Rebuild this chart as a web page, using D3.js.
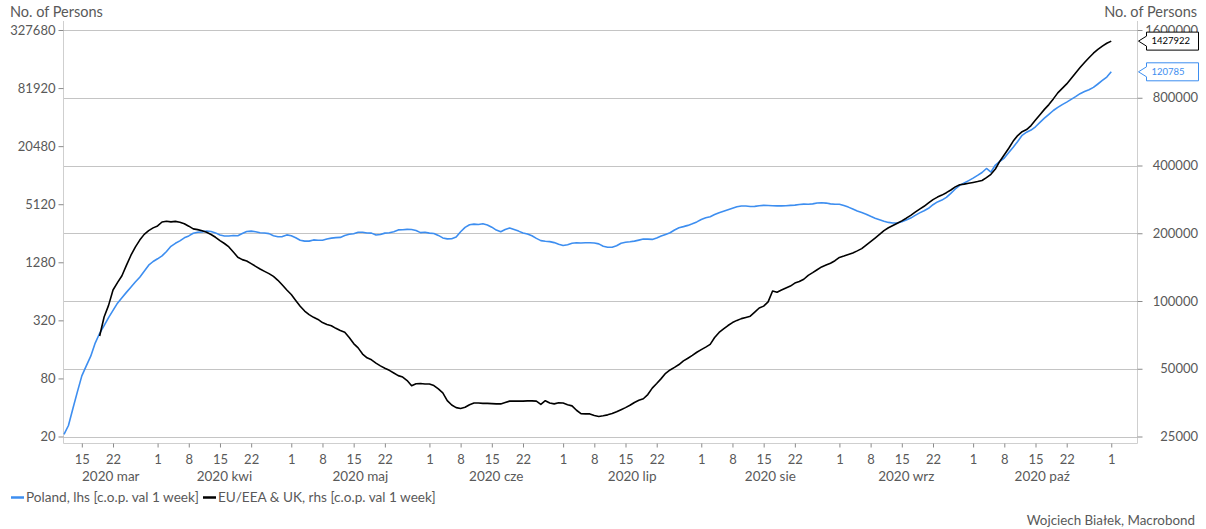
<!DOCTYPE html>
<html>
<head>
<meta charset="utf-8">
<script src="https://cdn.jsdelivr.net/npm/d3@7"></script>
<style>
  html, body { margin: 0; padding: 0; background: #fff; }
  svg { display: block; font-family: Lato, "Open Sans", sans-serif; }
</style>
</head>
<body>
<svg id="chart" width="1206" height="529"></svg>
<script>
// Weekly new COVID-19 cases (change over one week), daily observations
const polandStart = "2020-03-11";
const euStart = "2020-03-19";

// Poland, left axis
const polandValues = [
  21, 26, 39, 58, 85, 108, 136, 186, 235, 282,
  341, 406, 482, 550, 624, 706, 798, 897, 1034, 1194,
  1304, 1391, 1490, 1656, 1875, 2014, 2133, 2296, 2403, 2557,
  2626, 2644, 2702, 2670, 2582, 2450, 2398, 2398, 2427, 2414,
  2544, 2670, 2694, 2650, 2594, 2576, 2538, 2409, 2358, 2363,
  2462, 2414, 2302, 2169, 2122, 2122, 2184, 2169, 2164, 2232,
  2280, 2308, 2319, 2420, 2496, 2532, 2618, 2624, 2576, 2568,
  2456, 2484, 2568, 2588, 2656, 2774, 2780, 2806, 2795, 2734,
  2600, 2624, 2568, 2544, 2432, 2290, 2238, 2248, 2341, 2656,
  2944, 3132, 3184, 3154, 3208, 3118, 2958, 2760, 2650, 2795,
  2895, 2795, 2694, 2576, 2514, 2414, 2264, 2148, 2112, 2097,
  2048, 1971, 1911, 1948, 2018, 2040, 2028, 2040, 2040, 2028,
  1985, 1879, 1830, 1830, 1902, 2018, 2062, 2088, 2122, 2174,
  2232, 2226, 2210, 2290, 2398, 2490, 2588, 2766, 2923, 3000,
  3088, 3208, 3356, 3554, 3702, 3800, 3996, 4180, 4334, 4492,
  4656, 4814, 4906, 4906, 4848, 4867, 4942, 4978, 4966, 4942,
  4918, 4918, 4942, 4978, 5014, 5086, 5134, 5122, 5160, 5272,
  5296, 5260, 5160, 5110, 5110, 4966, 4778, 4556, 4354, 4192,
  4034, 3836, 3666, 3538, 3412, 3316, 3270, 3270, 3364, 3504,
  3676, 3920, 4162, 4376, 4644, 5060, 5410, 5648, 6024, 6628,
  7362, 8024, 8496, 8998, 9552, 10188, 10918, 12012, 11046, 13042,
  14266, 15434, 17604, 19974, 22890, 26540, 28580, 30040, 32500, 36100,
  39920, 43720, 47960, 51660, 55240, 58620, 62540, 66700, 71640, 75320,
  78820, 83260, 90300, 98160, 106480, 120785
];

// EU/EEA & UK, right axis
const euValues = [
  69900, 84900,
  95600, 111900, 120700, 129400, 143900, 159300, 173600, 186500, 197700, 205500,
  211300, 215600, 224400, 226000, 224600, 225800, 224000, 220300, 215000, 209100,
  207600, 205300, 202100, 197500, 191900, 185500, 180100, 173900, 165100, 156500,
  152700, 150600, 146600, 142600, 138700, 135400, 132300, 128600, 123600, 117700,
  111900, 106900, 100600, 94800, 90200, 87000, 84600, 82800, 80200, 78700,
  77600, 75600, 73900, 72700, 68900, 64700, 61900, 58100, 55900, 54800,
  53000, 51500, 50300, 49200, 47900, 46600, 45900, 44300, 42000, 42900,
  43000, 42800, 42800, 42100, 40700, 39100, 36100, 34500, 33600, 33300,
  33700, 34600, 35200, 35200, 35100, 35100, 35000, 34900, 34900, 35400,
  35900, 35900, 35900, 35900, 36000, 36000, 35900, 34750, 36050, 35200,
  34900, 35300, 35200, 34600, 34200, 32700, 31600, 31500, 31500, 31000,
  30700, 30900, 31200, 31600, 32200, 32900, 33600, 34400, 35400, 36200,
  36800, 38400, 41000, 43000, 45200, 47700, 49400, 50700, 52200, 54200,
  55700, 57300, 59200, 60800, 62400, 64200, 68800, 72500, 75200, 77800,
  80200, 82000, 83500, 84500, 85600, 89200, 93100, 94900, 99100, 110800,
  109300, 111900, 114300, 116500, 120100, 122000, 124900, 130000, 133600, 137700,
  141700, 144400, 147200, 151000, 156100, 158300, 160800, 163400, 167000, 170900,
  177200, 183600, 190500, 197700, 205500, 211500, 216500, 221700, 227000, 233300,
  240300, 248300, 256100, 263500, 272800, 282200, 289500, 295500, 302900, 311300,
  321400, 328400, 330700, 333400, 336200, 339300, 343100, 353400, 365600, 386000,
  418000, 446300, 477000, 513500, 543200, 565300, 577600, 601700, 636500, 672700,
  710200, 745900, 790700, 840800, 880400, 921900, 974200, 1031600, 1089100, 1147400,
  1205200, 1262000, 1312000, 1355700, 1396600, 1427922
];

const leftTicks = [20, 80, 320, 1280, 5120, 20480, 81920, 327680];
const rightTicks = [25000, 50000, 100000, 200000, 400000, 800000, 1600000];
const dayTickLabels = ["2020-03-15", "2020-03-22",
  "2020-04-01", "2020-04-08", "2020-04-15", "2020-04-22",
  "2020-05-01", "2020-05-08", "2020-05-15", "2020-05-22",
  "2020-06-01", "2020-06-08", "2020-06-15", "2020-06-22",
  "2020-07-01", "2020-07-08", "2020-07-15", "2020-07-22",
  "2020-08-01", "2020-08-08", "2020-08-15", "2020-08-22",
  "2020-09-01", "2020-09-08", "2020-09-15", "2020-09-22",
  "2020-10-01", "2020-10-08", "2020-10-15", "2020-10-22",
  "2020-11-01"];
const monthNames = ["2020 mar", "2020 kwi", "2020 maj", "2020 cze", "2020 lip", "2020 sie", "2020 wrz", "2020 paź"];
const seriesNames = ["Poland, lhs [c.o.p. val 1 week]", "EU/EEA & UK, rhs [c.o.p. val 1 week]"];
const colors = { poland: "#3d8ef0", eu: "#000000" };

const parse = d3.utcParse("%Y-%m-%d");
const polandData = polandValues.map((v, i) => ({ date: d3.utcDay.offset(parse(polandStart), i), value: v }));
const euData = euValues.map((v, i) => ({ date: d3.utcDay.offset(parse(euStart), i), value: v }));

const svg = d3.select("#chart");
const plot = { left: 63.5, right: 1137.5, top: 21, bottom: 443.5 };

const x = d3.scaleUtc().domain([parse("2020-03-11"), parse("2020-11-07")]).range([64, 1138]);
const yL = d3.scaleLog().base(4).domain([20, 327680]).range([436.5, 30]);
const yR = d3.scaleLog().base(2).domain([25000, 1600000]).range([436.5, 30]);

const axisColor = "#cfcfcf";
const textColor = "#595959";

// horizontal grid on the right-hand scale
svg.append("g").selectAll("line").data(rightTicks).join("line")
  .attr("x1", plot.left).attr("x2", plot.right)
  .attr("y1", d => Math.round(yR(d)) + 0.5).attr("y2", d => Math.round(yR(d)) + 0.5)
  .attr("stroke", "#c4c4c4").attr("stroke-width", 1.2);

// plot frame
svg.append("path")
  .attr("d", `M${plot.left},${plot.top}V${plot.bottom}H${plot.right}V${plot.top}`)
  .attr("fill", "none").attr("stroke", axisColor);

// left axis
const gL = svg.append("g").attr("transform", `translate(${plot.left},0)`)
  .call(d3.axisLeft(yL).tickValues(leftTicks).tickSize(5).tickPadding(3).tickFormat(d3.format("d")));
gL.select(".domain").remove();
gL.selectAll(".tick line").attr("stroke", "#8a8a8a");
gL.selectAll("text").attr("fill", textColor).attr("font-size", 13).attr("font-family", "Lato, sans-serif");

// right axis
const gR = svg.append("g").attr("transform", `translate(${plot.right},0)`)
  .call(d3.axisRight(yR).tickValues(rightTicks).tickSize(5).tickFormat(d3.format("d")));
gR.select(".domain").remove();
gR.selectAll(".tick line").attr("stroke", "#8a8a8a");
gR.selectAll("text").attr("fill", textColor).attr("font-size", 13).attr("font-family", "Lato, sans-serif")
  .attr("text-anchor", "end").attr("x", 60.5);

// bottom axis: weekly day ticks
const gX = svg.append("g").attr("transform", `translate(0,${plot.bottom})`)
  .call(d3.axisBottom(x).tickValues(dayTickLabels.map(parse)).tickSize(4).tickPadding(7)
    .tickFormat(d3.utcFormat("%-d")));
gX.select(".domain").remove();
gX.selectAll(".tick line").attr("stroke", "#8a8a8a");
gX.selectAll("text").attr("fill", textColor).attr("font-size", 13).attr("font-family", "Lato, sans-serif");

// month labels centred on the visible part of each month
const monthStarts = d3.utcMonth.range(parse("2020-03-01"), parse("2020-11-01"));
svg.append("g").selectAll("text").data(monthStarts).join("text")
  .attr("x", d => {
    const a = d3.max([d, x.domain()[0]]);
    const b = d3.utcMonth.offset(d, 1);
    return (x(a) + x(b)) / 2;
  })
  .attr("y", 481)
  .attr("text-anchor", "middle")
  .attr("font-size", 13.5).attr("fill", textColor)
  .text((d, i) => monthNames[i]);

// series lines
const lineL = d3.line().x(d => x(d.date)).y(d => yL(d.value));
const lineR = d3.line().x(d => x(d.date)).y(d => yR(d.value));
svg.append("path").datum(polandData).attr("d", lineL)
  .attr("fill", "none").attr("stroke", colors.poland).attr("stroke-width", 1.6).attr("stroke-linejoin", "round");
svg.append("path").datum(euData).attr("d", lineR)
  .attr("fill", "none").attr("stroke", colors.eu).attr("stroke-width", 1.6).attr("stroke-linejoin", "round");

// axis titles
svg.append("text").attr("x", 10).attr("y", 17).attr("font-size", 14.5).attr("fill", textColor).text("No. of Persons");
svg.append("text").attr("x", 1197).attr("y", 17).attr("text-anchor", "end").attr("font-size", 14.5).attr("fill", textColor).text("No. of Persons");

// last-value callouts
function callout(yPos, label, color) {
  const tip = 1138.5, bx = 1146.5, bw = 52, h = 9;
  const g = svg.append("g");
  g.append("path")
    .attr("d", `M${tip},${yPos}L${bx},${yPos - 5}V${yPos - h}H${bx + bw}V${yPos + h}H${bx}V${yPos + 5}Z`)
    .attr("fill", "#fff").attr("stroke", color).attr("stroke-width", 1);
  g.append("text").attr("x", bx + 5).attr("y", yPos).attr("dy", "0.35em")
    .attr("font-size", 9.5).attr("fill", color).text(label);
}
const lastEU = euData[euData.length - 1];
const lastPL = polandData[polandData.length - 1];
callout(yR(lastEU.value), String(lastEU.value), colors.eu);
callout(yL(lastPL.value), String(lastPL.value), colors.poland);

// legend
const legend = svg.append("g").attr("font-size", 13.6).attr("fill", textColor);
legend.append("line").attr("x1", 11).attr("x2", 24).attr("y1", 497.5).attr("y2", 497.5)
  .attr("stroke", colors.poland).attr("stroke-width", 2.5);
legend.append("text").attr("x", 26).attr("y", 502).text(seriesNames[0]);
legend.append("line").attr("x1", 203).attr("x2", 216).attr("y1", 497.5).attr("y2", 497.5)
  .attr("stroke", colors.eu).attr("stroke-width", 2.5);
legend.append("text").attr("x", 218).attr("y", 502).text(seriesNames[1]);

// source credit
svg.append("text").attr("x", 1195).attr("y", 525).attr("text-anchor", "end")
  .attr("font-size", 13.4).attr("fill", textColor).text("Wojciech Białek, Macrobond");
</script>
</body>
</html>
